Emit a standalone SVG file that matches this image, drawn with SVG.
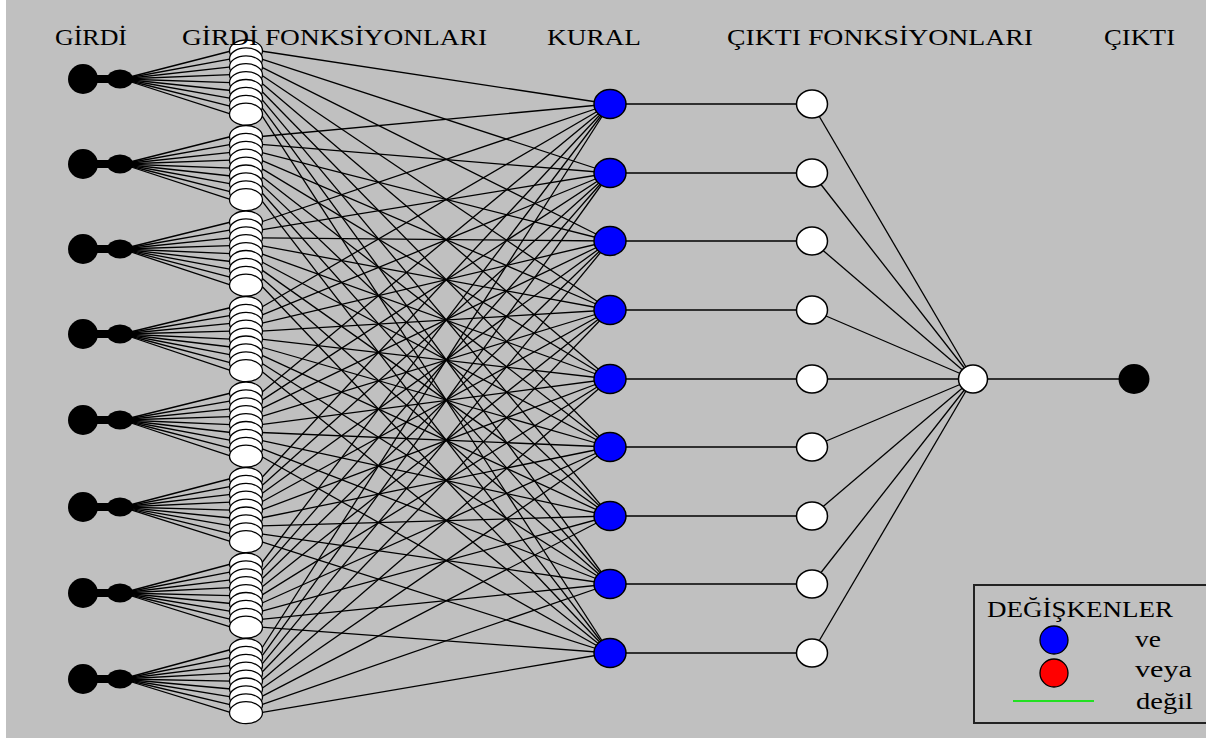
<svg xmlns="http://www.w3.org/2000/svg" width="1206" height="739" viewBox="0 0 1206 739">
<style>
.bg{fill:#c0c0c0}
.lbl{font-family:"Liberation Serif",serif;font-size:24px;fill:#000}
.ln{stroke:#000;stroke-width:1.3;fill:none}
.inp{fill:#000}
.mf{fill:#fff;stroke:#000;stroke-width:1.3}
.rule{fill:#0000ff;stroke:#000;stroke-width:1.5}
.wn{fill:#fff;stroke:#000;stroke-width:1.5}
.out{fill:#000}
</style>
<rect x="0" y="0" width="1206" height="739" fill="#fff"/>
<rect class="bg" x="6" y="0" width="1200" height="738"/>

<g id="connectors">
<g id="fan-in">
<line class="ln" x1="122" y1="79" x2="231" y2="51"/><line class="ln" x1="122" y1="79" x2="231" y2="58.9"/><line class="ln" x1="122" y1="79" x2="231" y2="66.8"/><line class="ln" x1="122" y1="79" x2="231" y2="74.7"/><line class="ln" x1="122" y1="79" x2="231" y2="82.6"/><line class="ln" x1="122" y1="79" x2="231" y2="90.5"/><line class="ln" x1="122" y1="79" x2="231" y2="98.4"/><line class="ln" x1="122" y1="79" x2="231" y2="106.3"/><line class="ln" x1="122" y1="79" x2="231" y2="114.2"/>
<line class="ln" x1="122" y1="164" x2="231" y2="136.5"/><line class="ln" x1="122" y1="164" x2="231" y2="144.4"/><line class="ln" x1="122" y1="164" x2="231" y2="152.3"/><line class="ln" x1="122" y1="164" x2="231" y2="160.2"/><line class="ln" x1="122" y1="164" x2="231" y2="168.1"/><line class="ln" x1="122" y1="164" x2="231" y2="176"/><line class="ln" x1="122" y1="164" x2="231" y2="183.9"/><line class="ln" x1="122" y1="164" x2="231" y2="191.8"/><line class="ln" x1="122" y1="164" x2="231" y2="199.7"/>
<line class="ln" x1="122" y1="249" x2="231" y2="222"/><line class="ln" x1="122" y1="249" x2="231" y2="229.9"/><line class="ln" x1="122" y1="249" x2="231" y2="237.8"/><line class="ln" x1="122" y1="249" x2="231" y2="245.7"/><line class="ln" x1="122" y1="249" x2="231" y2="253.6"/><line class="ln" x1="122" y1="249" x2="231" y2="261.5"/><line class="ln" x1="122" y1="249" x2="231" y2="269.4"/><line class="ln" x1="122" y1="249" x2="231" y2="277.3"/><line class="ln" x1="122" y1="249" x2="231" y2="285.2"/>
<line class="ln" x1="122" y1="334" x2="231" y2="307.5"/><line class="ln" x1="122" y1="334" x2="231" y2="315.4"/><line class="ln" x1="122" y1="334" x2="231" y2="323.3"/><line class="ln" x1="122" y1="334" x2="231" y2="331.2"/><line class="ln" x1="122" y1="334" x2="231" y2="339.1"/><line class="ln" x1="122" y1="334" x2="231" y2="347"/><line class="ln" x1="122" y1="334" x2="231" y2="354.9"/><line class="ln" x1="122" y1="334" x2="231" y2="362.8"/><line class="ln" x1="122" y1="334" x2="231" y2="370.7"/>
<line class="ln" x1="122" y1="420" x2="231" y2="393"/><line class="ln" x1="122" y1="420" x2="231" y2="400.9"/><line class="ln" x1="122" y1="420" x2="231" y2="408.8"/><line class="ln" x1="122" y1="420" x2="231" y2="416.7"/><line class="ln" x1="122" y1="420" x2="231" y2="424.6"/><line class="ln" x1="122" y1="420" x2="231" y2="432.5"/><line class="ln" x1="122" y1="420" x2="231" y2="440.4"/><line class="ln" x1="122" y1="420" x2="231" y2="448.3"/><line class="ln" x1="122" y1="420" x2="231" y2="456.2"/>
<line class="ln" x1="122" y1="507" x2="231" y2="478.5"/><line class="ln" x1="122" y1="507" x2="231" y2="486.4"/><line class="ln" x1="122" y1="507" x2="231" y2="494.3"/><line class="ln" x1="122" y1="507" x2="231" y2="502.2"/><line class="ln" x1="122" y1="507" x2="231" y2="510.1"/><line class="ln" x1="122" y1="507" x2="231" y2="518"/><line class="ln" x1="122" y1="507" x2="231" y2="525.9"/><line class="ln" x1="122" y1="507" x2="231" y2="533.8"/><line class="ln" x1="122" y1="507" x2="231" y2="541.7"/>
<line class="ln" x1="122" y1="593" x2="231" y2="564"/><line class="ln" x1="122" y1="593" x2="231" y2="571.9"/><line class="ln" x1="122" y1="593" x2="231" y2="579.8"/><line class="ln" x1="122" y1="593" x2="231" y2="587.7"/><line class="ln" x1="122" y1="593" x2="231" y2="595.6"/><line class="ln" x1="122" y1="593" x2="231" y2="603.5"/><line class="ln" x1="122" y1="593" x2="231" y2="611.4"/><line class="ln" x1="122" y1="593" x2="231" y2="619.3"/><line class="ln" x1="122" y1="593" x2="231" y2="627.2"/>
<line class="ln" x1="122" y1="679" x2="231" y2="649.5"/><line class="ln" x1="122" y1="679" x2="231" y2="657.4"/><line class="ln" x1="122" y1="679" x2="231" y2="665.3"/><line class="ln" x1="122" y1="679" x2="231" y2="673.2"/><line class="ln" x1="122" y1="679" x2="231" y2="681.1"/><line class="ln" x1="122" y1="679" x2="231" y2="689"/><line class="ln" x1="122" y1="679" x2="231" y2="696.9"/><line class="ln" x1="122" y1="679" x2="231" y2="704.8"/><line class="ln" x1="122" y1="679" x2="231" y2="712.7"/>
</g>
<g id="mf-to-rule">
<line class="ln" x1="261" y1="51" x2="610" y2="104"/><line class="ln" x1="261" y1="58.9" x2="610" y2="173"/><line class="ln" x1="261" y1="66.8" x2="610" y2="241"/><line class="ln" x1="261" y1="74.7" x2="610" y2="310"/><line class="ln" x1="261" y1="82.6" x2="610" y2="379"/><line class="ln" x1="261" y1="90.5" x2="610" y2="447"/><line class="ln" x1="261" y1="98.4" x2="610" y2="516"/><line class="ln" x1="261" y1="106.3" x2="610" y2="584"/><line class="ln" x1="261" y1="114.2" x2="610" y2="653"/>
<line class="ln" x1="261" y1="136.5" x2="610" y2="104"/><line class="ln" x1="261" y1="144.4" x2="610" y2="173"/><line class="ln" x1="261" y1="152.3" x2="610" y2="241"/><line class="ln" x1="261" y1="160.2" x2="610" y2="310"/><line class="ln" x1="261" y1="168.1" x2="610" y2="379"/><line class="ln" x1="261" y1="176" x2="610" y2="447"/><line class="ln" x1="261" y1="183.9" x2="610" y2="516"/><line class="ln" x1="261" y1="191.8" x2="610" y2="584"/><line class="ln" x1="261" y1="199.7" x2="610" y2="653"/>
<line class="ln" x1="261" y1="222" x2="610" y2="104"/><line class="ln" x1="261" y1="229.9" x2="610" y2="173"/><line class="ln" x1="261" y1="237.8" x2="610" y2="241"/><line class="ln" x1="261" y1="245.7" x2="610" y2="310"/><line class="ln" x1="261" y1="253.6" x2="610" y2="379"/><line class="ln" x1="261" y1="261.5" x2="610" y2="447"/><line class="ln" x1="261" y1="269.4" x2="610" y2="516"/><line class="ln" x1="261" y1="277.3" x2="610" y2="584"/><line class="ln" x1="261" y1="285.2" x2="610" y2="653"/>
<line class="ln" x1="261" y1="307.5" x2="610" y2="104"/><line class="ln" x1="261" y1="315.4" x2="610" y2="173"/><line class="ln" x1="261" y1="323.3" x2="610" y2="241"/><line class="ln" x1="261" y1="331.2" x2="610" y2="310"/><line class="ln" x1="261" y1="339.1" x2="610" y2="379"/><line class="ln" x1="261" y1="347" x2="610" y2="447"/><line class="ln" x1="261" y1="354.9" x2="610" y2="516"/><line class="ln" x1="261" y1="362.8" x2="610" y2="584"/><line class="ln" x1="261" y1="370.7" x2="610" y2="653"/>
<line class="ln" x1="261" y1="393" x2="610" y2="104"/><line class="ln" x1="261" y1="400.9" x2="610" y2="173"/><line class="ln" x1="261" y1="408.8" x2="610" y2="241"/><line class="ln" x1="261" y1="416.7" x2="610" y2="310"/><line class="ln" x1="261" y1="424.6" x2="610" y2="379"/><line class="ln" x1="261" y1="432.5" x2="610" y2="447"/><line class="ln" x1="261" y1="440.4" x2="610" y2="516"/><line class="ln" x1="261" y1="448.3" x2="610" y2="584"/><line class="ln" x1="261" y1="456.2" x2="610" y2="653"/>
<line class="ln" x1="261" y1="478.5" x2="610" y2="104"/><line class="ln" x1="261" y1="486.4" x2="610" y2="173"/><line class="ln" x1="261" y1="494.3" x2="610" y2="241"/><line class="ln" x1="261" y1="502.2" x2="610" y2="310"/><line class="ln" x1="261" y1="510.1" x2="610" y2="379"/><line class="ln" x1="261" y1="518" x2="610" y2="447"/><line class="ln" x1="261" y1="525.9" x2="610" y2="516"/><line class="ln" x1="261" y1="533.8" x2="610" y2="584"/><line class="ln" x1="261" y1="541.7" x2="610" y2="653"/>
<line class="ln" x1="261" y1="564" x2="610" y2="104"/><line class="ln" x1="261" y1="571.9" x2="610" y2="173"/><line class="ln" x1="261" y1="579.8" x2="610" y2="241"/><line class="ln" x1="261" y1="587.7" x2="610" y2="310"/><line class="ln" x1="261" y1="595.6" x2="610" y2="379"/><line class="ln" x1="261" y1="603.5" x2="610" y2="447"/><line class="ln" x1="261" y1="611.4" x2="610" y2="516"/><line class="ln" x1="261" y1="619.3" x2="610" y2="584"/><line class="ln" x1="261" y1="627.2" x2="610" y2="653"/>
<line class="ln" x1="261" y1="649.5" x2="610" y2="104"/><line class="ln" x1="261" y1="657.4" x2="610" y2="173"/><line class="ln" x1="261" y1="665.3" x2="610" y2="241"/><line class="ln" x1="261" y1="673.2" x2="610" y2="310"/><line class="ln" x1="261" y1="681.1" x2="610" y2="379"/><line class="ln" x1="261" y1="689" x2="610" y2="447"/><line class="ln" x1="261" y1="696.9" x2="610" y2="516"/><line class="ln" x1="261" y1="704.8" x2="610" y2="584"/><line class="ln" x1="261" y1="712.7" x2="610" y2="653"/>
</g>
<g id="rule-to-outfn">
<line class="ln" x1="610" y1="104" x2="812" y2="104"/><line class="ln" x1="610" y1="173" x2="812" y2="173"/><line class="ln" x1="610" y1="241" x2="812" y2="241"/><line class="ln" x1="610" y1="310" x2="812" y2="310"/><line class="ln" x1="610" y1="379" x2="812" y2="379"/><line class="ln" x1="610" y1="447" x2="812" y2="447"/><line class="ln" x1="610" y1="516" x2="812" y2="516"/><line class="ln" x1="610" y1="584" x2="812" y2="584"/><line class="ln" x1="610" y1="653" x2="812" y2="653"/>
</g>
<g id="outfn-to-agg">
<line class="ln" x1="812" y1="104" x2="973" y2="379"/><line class="ln" x1="812" y1="173" x2="973" y2="379"/><line class="ln" x1="812" y1="241" x2="973" y2="379"/><line class="ln" x1="812" y1="310" x2="973" y2="379"/><line class="ln" x1="812" y1="379" x2="973" y2="379"/><line class="ln" x1="812" y1="447" x2="973" y2="379"/><line class="ln" x1="812" y1="516" x2="973" y2="379"/><line class="ln" x1="812" y1="584" x2="973" y2="379"/><line class="ln" x1="812" y1="653" x2="973" y2="379"/>
<line class="ln" x1="973" y1="379" x2="1135" y2="379"/>
</g>
</g>

<g id="inputs">
<g id="input-1"><circle class="inp" cx="83" cy="79" r="15"/><rect class="inp" x="95" y="75" width="16" height="8"/><ellipse class="inp" cx="120" cy="79" rx="13" ry="9.5"/></g>
<g id="input-2"><circle class="inp" cx="83" cy="164" r="15"/><rect class="inp" x="95" y="160" width="16" height="8"/><ellipse class="inp" cx="120" cy="164" rx="13" ry="9.5"/></g>
<g id="input-3"><circle class="inp" cx="83" cy="249" r="15"/><rect class="inp" x="95" y="245" width="16" height="8"/><ellipse class="inp" cx="120" cy="249" rx="13" ry="9.5"/></g>
<g id="input-4"><circle class="inp" cx="83" cy="334" r="15"/><rect class="inp" x="95" y="330" width="16" height="8"/><ellipse class="inp" cx="120" cy="334" rx="13" ry="9.5"/></g>
<g id="input-5"><circle class="inp" cx="83" cy="420" r="15"/><rect class="inp" x="95" y="416" width="16" height="8"/><ellipse class="inp" cx="120" cy="420" rx="13" ry="9.5"/></g>
<g id="input-6"><circle class="inp" cx="83" cy="507" r="15"/><rect class="inp" x="95" y="503" width="16" height="8"/><ellipse class="inp" cx="120" cy="507" rx="13" ry="9.5"/></g>
<g id="input-7"><circle class="inp" cx="83" cy="593" r="15"/><rect class="inp" x="95" y="589" width="16" height="8"/><ellipse class="inp" cx="120" cy="593" rx="13" ry="9.5"/></g>
<g id="input-8"><circle class="inp" cx="83" cy="679" r="15"/><rect class="inp" x="95" y="675" width="16" height="8"/><ellipse class="inp" cx="120" cy="679" rx="13" ry="9.5"/></g>
</g>

<g id="input-functions">
<g id="mf-1"><ellipse class="mf" cx="246" cy="51" rx="16.5" ry="11"/><ellipse class="mf" cx="246" cy="58.9" rx="16.5" ry="11"/><ellipse class="mf" cx="246" cy="66.8" rx="16.5" ry="11"/><ellipse class="mf" cx="246" cy="74.7" rx="16.5" ry="11"/><ellipse class="mf" cx="246" cy="82.6" rx="16.5" ry="11"/><ellipse class="mf" cx="246" cy="90.5" rx="16.5" ry="11"/><ellipse class="mf" cx="246" cy="98.4" rx="16.5" ry="11"/><ellipse class="mf" cx="246" cy="106.3" rx="16.5" ry="11"/><ellipse class="mf" cx="246" cy="114.2" rx="16.5" ry="11"/></g>
<g id="mf-2"><ellipse class="mf" cx="246" cy="136.5" rx="16.5" ry="11"/><ellipse class="mf" cx="246" cy="144.4" rx="16.5" ry="11"/><ellipse class="mf" cx="246" cy="152.3" rx="16.5" ry="11"/><ellipse class="mf" cx="246" cy="160.2" rx="16.5" ry="11"/><ellipse class="mf" cx="246" cy="168.1" rx="16.5" ry="11"/><ellipse class="mf" cx="246" cy="176" rx="16.5" ry="11"/><ellipse class="mf" cx="246" cy="183.9" rx="16.5" ry="11"/><ellipse class="mf" cx="246" cy="191.8" rx="16.5" ry="11"/><ellipse class="mf" cx="246" cy="199.7" rx="16.5" ry="11"/></g>
<g id="mf-3"><ellipse class="mf" cx="246" cy="222" rx="16.5" ry="11"/><ellipse class="mf" cx="246" cy="229.9" rx="16.5" ry="11"/><ellipse class="mf" cx="246" cy="237.8" rx="16.5" ry="11"/><ellipse class="mf" cx="246" cy="245.7" rx="16.5" ry="11"/><ellipse class="mf" cx="246" cy="253.6" rx="16.5" ry="11"/><ellipse class="mf" cx="246" cy="261.5" rx="16.5" ry="11"/><ellipse class="mf" cx="246" cy="269.4" rx="16.5" ry="11"/><ellipse class="mf" cx="246" cy="277.3" rx="16.5" ry="11"/><ellipse class="mf" cx="246" cy="285.2" rx="16.5" ry="11"/></g>
<g id="mf-4"><ellipse class="mf" cx="246" cy="307.5" rx="16.5" ry="11"/><ellipse class="mf" cx="246" cy="315.4" rx="16.5" ry="11"/><ellipse class="mf" cx="246" cy="323.3" rx="16.5" ry="11"/><ellipse class="mf" cx="246" cy="331.2" rx="16.5" ry="11"/><ellipse class="mf" cx="246" cy="339.1" rx="16.5" ry="11"/><ellipse class="mf" cx="246" cy="347" rx="16.5" ry="11"/><ellipse class="mf" cx="246" cy="354.9" rx="16.5" ry="11"/><ellipse class="mf" cx="246" cy="362.8" rx="16.5" ry="11"/><ellipse class="mf" cx="246" cy="370.7" rx="16.5" ry="11"/></g>
<g id="mf-5"><ellipse class="mf" cx="246" cy="393" rx="16.5" ry="11"/><ellipse class="mf" cx="246" cy="400.9" rx="16.5" ry="11"/><ellipse class="mf" cx="246" cy="408.8" rx="16.5" ry="11"/><ellipse class="mf" cx="246" cy="416.7" rx="16.5" ry="11"/><ellipse class="mf" cx="246" cy="424.6" rx="16.5" ry="11"/><ellipse class="mf" cx="246" cy="432.5" rx="16.5" ry="11"/><ellipse class="mf" cx="246" cy="440.4" rx="16.5" ry="11"/><ellipse class="mf" cx="246" cy="448.3" rx="16.5" ry="11"/><ellipse class="mf" cx="246" cy="456.2" rx="16.5" ry="11"/></g>
<g id="mf-6"><ellipse class="mf" cx="246" cy="478.5" rx="16.5" ry="11"/><ellipse class="mf" cx="246" cy="486.4" rx="16.5" ry="11"/><ellipse class="mf" cx="246" cy="494.3" rx="16.5" ry="11"/><ellipse class="mf" cx="246" cy="502.2" rx="16.5" ry="11"/><ellipse class="mf" cx="246" cy="510.1" rx="16.5" ry="11"/><ellipse class="mf" cx="246" cy="518" rx="16.5" ry="11"/><ellipse class="mf" cx="246" cy="525.9" rx="16.5" ry="11"/><ellipse class="mf" cx="246" cy="533.8" rx="16.5" ry="11"/><ellipse class="mf" cx="246" cy="541.7" rx="16.5" ry="11"/></g>
<g id="mf-7"><ellipse class="mf" cx="246" cy="564" rx="16.5" ry="11"/><ellipse class="mf" cx="246" cy="571.9" rx="16.5" ry="11"/><ellipse class="mf" cx="246" cy="579.8" rx="16.5" ry="11"/><ellipse class="mf" cx="246" cy="587.7" rx="16.5" ry="11"/><ellipse class="mf" cx="246" cy="595.6" rx="16.5" ry="11"/><ellipse class="mf" cx="246" cy="603.5" rx="16.5" ry="11"/><ellipse class="mf" cx="246" cy="611.4" rx="16.5" ry="11"/><ellipse class="mf" cx="246" cy="619.3" rx="16.5" ry="11"/><ellipse class="mf" cx="246" cy="627.2" rx="16.5" ry="11"/></g>
<g id="mf-8"><ellipse class="mf" cx="246" cy="649.5" rx="16.5" ry="11"/><ellipse class="mf" cx="246" cy="657.4" rx="16.5" ry="11"/><ellipse class="mf" cx="246" cy="665.3" rx="16.5" ry="11"/><ellipse class="mf" cx="246" cy="673.2" rx="16.5" ry="11"/><ellipse class="mf" cx="246" cy="681.1" rx="16.5" ry="11"/><ellipse class="mf" cx="246" cy="689" rx="16.5" ry="11"/><ellipse class="mf" cx="246" cy="696.9" rx="16.5" ry="11"/><ellipse class="mf" cx="246" cy="704.8" rx="16.5" ry="11"/><ellipse class="mf" cx="246" cy="712.7" rx="16.5" ry="11"/></g>
</g>

<g id="rules">
<g id="rule-1"><ellipse class="rule" cx="610" cy="104" rx="16" ry="14.5"/></g>
<g id="rule-2"><ellipse class="rule" cx="610" cy="173" rx="16" ry="14.5"/></g>
<g id="rule-3"><ellipse class="rule" cx="610" cy="241" rx="16" ry="14.5"/></g>
<g id="rule-4"><ellipse class="rule" cx="610" cy="310" rx="16" ry="14.5"/></g>
<g id="rule-5"><ellipse class="rule" cx="610" cy="379" rx="16" ry="14.5"/></g>
<g id="rule-6"><ellipse class="rule" cx="610" cy="447" rx="16" ry="14.5"/></g>
<g id="rule-7"><ellipse class="rule" cx="610" cy="516" rx="16" ry="14.5"/></g>
<g id="rule-8"><ellipse class="rule" cx="610" cy="584" rx="16" ry="14.5"/></g>
<g id="rule-9"><ellipse class="rule" cx="610" cy="653" rx="16" ry="14.5"/></g>
</g>

<g id="output-functions">
<g id="outfn-1"><ellipse class="wn" cx="812" cy="104" rx="15.5" ry="14"/></g>
<g id="outfn-2"><ellipse class="wn" cx="812" cy="173" rx="15.5" ry="14"/></g>
<g id="outfn-3"><ellipse class="wn" cx="812" cy="241" rx="15.5" ry="14"/></g>
<g id="outfn-4"><ellipse class="wn" cx="812" cy="310" rx="15.5" ry="14"/></g>
<g id="outfn-5"><ellipse class="wn" cx="812" cy="379" rx="15.5" ry="14"/></g>
<g id="outfn-6"><ellipse class="wn" cx="812" cy="447" rx="15.5" ry="14"/></g>
<g id="outfn-7"><ellipse class="wn" cx="812" cy="516" rx="15.5" ry="14"/></g>
<g id="outfn-8"><ellipse class="wn" cx="812" cy="584" rx="15.5" ry="14"/></g>
<g id="outfn-9"><ellipse class="wn" cx="812" cy="653" rx="15.5" ry="14"/></g>
</g>

<g id="aggregator"><ellipse class="wn" cx="973" cy="379" rx="14.5" ry="14"/></g>
<g id="output"><ellipse class="out" cx="1134" cy="379" rx="15.5" ry="15"/></g>

<g id="labels">
<text class="lbl" x="55" y="45" textLength="72" lengthAdjust="spacingAndGlyphs">GİRDİ</text>
<text class="lbl" x="182" y="45" textLength="305" lengthAdjust="spacingAndGlyphs">GİRDİ FONKSİYONLARI</text>
<text class="lbl" x="547" y="45" textLength="94" lengthAdjust="spacingAndGlyphs">KURAL</text>
<text class="lbl" x="727" y="45" textLength="306" lengthAdjust="spacingAndGlyphs">ÇIKTI FONKSİYONLARI</text>
<text class="lbl" x="1104" y="45" textLength="71" lengthAdjust="spacingAndGlyphs">ÇIKTI</text>
</g>

<g id="legend">
<rect x="974" y="585" width="250" height="138" fill="none" stroke="#222" stroke-width="2"/>
<text class="lbl" x="987" y="617" textLength="186" lengthAdjust="spacingAndGlyphs">DEĞİŞKENLER</text>
<g id="legend-ve"><circle cx="1054" cy="640" r="14" fill="#0000ff" stroke="#000" stroke-width="1.3"/><text class="lbl" x="1135" y="647" textLength="26" lengthAdjust="spacingAndGlyphs">ve</text></g>
<g id="legend-veya"><circle cx="1054" cy="673" r="14" fill="#ff0000" stroke="#000" stroke-width="1.3"/><text class="lbl" x="1135" y="677" textLength="57" lengthAdjust="spacingAndGlyphs">veya</text></g>
<g id="legend-degil"><line x1="1013" y1="701" x2="1094" y2="701" stroke="#22e022" stroke-width="2"/><text class="lbl" x="1136" y="709" textLength="57" lengthAdjust="spacingAndGlyphs">değil</text></g>
</g>
</svg>
